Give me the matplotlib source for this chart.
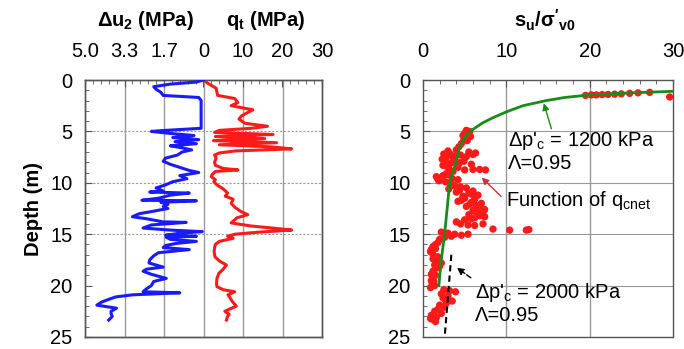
import matplotlib
matplotlib.use("Agg")
import matplotlib.pyplot as plt
from matplotlib.ticker import MultipleLocator

plt.rcParams['font.family'] = ['Liberation Sans', 'DejaVu Sans']
plt.rcParams['mathtext.fontset'] = 'custom'
plt.rcParams['mathtext.rm'] = 'Liberation Sans'
plt.rcParams['mathtext.it'] = 'Liberation Sans:italic'
plt.rcParams['mathtext.bf'] = 'Liberation Sans:bold'

# ---- data: pore pressure (depth m, MPa)
du2_depth = [0.0, 0.2, 0.4, 0.65, 0.9, 1.2, 1.5, 1.7, 2.0, 3.0, 4.0, 4.7, 4.9, 5.0, 5.2, 5.4, 5.6, 5.8,
             6.0, 6.2, 6.4, 6.6, 6.8, 7.0, 7.3, 7.6, 7.9, 8.2, 8.5, 8.8, 9.0, 9.3, 9.6, 9.9, 10.2, 10.5,
             10.8, 10.9, 11.0, 11.2, 11.5, 11.7, 11.75, 11.9, 12.1, 12.3, 12.5, 12.8, 13.0, 13.3, 13.5,
             13.8, 13.85, 14.1, 14.4, 14.6, 14.75, 14.9, 15.1, 15.2, 15.3, 15.5, 15.7, 15.9, 16.1, 16.3,
             16.5, 16.8, 17.1, 17.5, 17.8, 18.2, 18.4, 18.6, 18.9, 19.3, 19.6, 20.0, 20.3, 20.6, 20.7,
             20.9, 21.1, 21.3, 21.6, 21.9, 22.2, 22.5, 22.7, 23.0, 23.35]
du2_val = [0.0, 0.3, 1.4, 2.1, 2.0, 1.8, 1.7, 0.2, 0.1, 0.1, 0.1, 0.1, 1.6, 2.2, 1.4, 0.4, 1.3, 0.2,
           1.2, 0.3, 1.4, 0.9, 0.5, 0.9, 1.1, 1.6, 1.7, 1.4, 1.0, 0.6, 0.2, 1.0, 0.7, 1.3, 1.6, 2.0,
           1.7, 2.27, 0.6, 1.4, 1.9, 2.6, 0.3, 1.8, 1.5, 1.7, 1.5, 2.2, 2.7, 3.0, 2.4,
           1.7, 0.73, 2.2, 2.55, 1.4, 0.05, 1.0, 1.6, 0.3, 1.57, 1.4, 0.3, 1.15, 1.6, 1.7,
           0.6, 1.9, 2.1, 2.27, 2.3, 1.7, 2.4, 2.55, 2.2, 1.57, 2.1, 2.2, 2.4, 2.55, 1.0,
           3.0, 3.7, 3.95, 4.3, 4.5, 3.67, 3.9, 3.9, 3.85, 4.0]

# ---- data: cone resistance (depth m, MPa)
qt_depth = [0.0, 0.3, 0.8, 1.2, 1.5, 1.8, 2.2, 2.5, 2.9, 3.2, 3.5, 3.8, 4.2, 4.5, 4.7, 4.9, 5.1, 5.3,
            5.5, 5.7, 5.9, 6.1, 6.3, 6.5, 6.7, 6.9, 7.1, 7.3, 7.6, 8.0, 8.3, 8.6, 8.75, 8.9, 9.2, 9.4,
            9.7, 9.9, 10.2, 10.6, 11.0, 11.3, 11.6, 12.0, 12.4, 12.8, 13.1, 13.4, 13.9, 14.2, 14.5,
            14.6, 14.8, 15.0, 15.2, 15.4, 15.7, 16.0, 16.3, 16.7, 17.2, 17.6, 18.0, 18.4, 18.8, 19.3,
            19.8, 20.1, 20.4, 20.6, 20.9, 21.1, 21.5, 22.0, 22.3, 22.5, 22.8, 23.0, 23.35]
qt_val = [0.2, 1.0, 3.2, 3.4, 3.6, 7.9, 8.7, 7.0, 12.5, 11.0, 9.6, 9.0, 10.4, 16.2, 12.0, 4.0, 2.8, 17.6,
          3.0, 15.5, 2.5, 18.5, 4.0, 17.0, 22.3, 8.0, 4.0, 2.8, 3.2, 2.8, 3.0, 5.0, 8.7, 3.0, 2.2, 1.96,
          3.0, 2.6, 3.4, 5.0, 6.1, 5.5, 7.5, 7.0, 8.0, 9.5, 11.2, 8.5, 7.0, 12.0, 20.0,
          22.3, 14.0, 8.0, 6.1, 7.5, 4.0, 3.0, 2.8, 2.7, 2.9, 4.0, 5.8, 5.0, 3.9, 3.4,
          3.3, 3.4, 5.0, 7.9, 6.2, 6.6, 7.2, 8.3, 6.5, 5.4, 6.5, 6.1, 5.8]

# ---- data: su/sigma'v0 from qcnet (value, depth)
su_val = [19.5, 20.2, 20.8, 21.5, 22.2, 23.0, 23.8, 24.8, 25.8, 27.2, 29.6,
          5.2, 5.6, 5.0, 5.4, 5.7, 5.1, 4.9, 5.3, 4.6, 4.3, 4.0, 4.8, 5.5,
          3.0, 5.5, 6.3, 2.5, 4.5, 3.5, 2.8, 5.0, 2.3, 3.8, 4.9, 2.6, 3.3, 5.8, 2.9, 4.2,
          3.2, 4.0, 5.2, 6.0, 2.7, 3.6, 4.4, 2.4, 3.1,
          5.0, 6.0, 6.8, 7.5,
          3.6, 2.8, 1.6, 2.2, 3.5, 4.2, 1.9, 2.7, 3.2, 2.4, 1.8, 3.0,
          3.6, 4.5, 5.2, 3.1, 6.0, 4.0, 5.5, 6.6, 4.8, 3.8, 4.4, 5.8,
          5.0, 6.2, 4.2, 5.8, 7.0, 6.4, 5.2, 6.8, 7.4, 6.0, 7.0, 6.5, 5.5, 4.6, 5.6, 6.6, 7.2,
          6.8, 7.4, 5.8, 4.0, 6.2, 5.0,
          4.5, 5.4, 6.2, 7.2, 8.4, 10.4, 12.4, 12.7,
          2.2, 3.0, 3.8, 4.6, 5.4, 2.6, 3.4,
          2.0, 1.8, 1.5,
          1.2, 1.0, 1.1, 1.3, 1.8, 1.2, 1.6, 2.2, 1.4, 2.0, 0.9, 1.5,
          1.6, 1.2, 1.0, 1.2, 1.0, 1.1, 1.4, 0.9, 1.5, 1.3,
          2.5, 3.9, 2.2, 3.0, 2.6, 3.5, 2.8, 2.0, 3.2, 2.4,
          2.6, 1.8, 1.4, 2.2, 1.0, 1.6, 1.2, 1.5, 2.0, 0.9]
su_depth = [1.5, 1.45, 1.45, 1.42, 1.4, 1.38, 1.35, 1.3, 1.25, 1.2, 1.65,
            4.9, 5.0, 5.2, 5.3, 5.5, 5.6, 5.8, 5.9, 6.2, 6.5, 6.8, 5.4, 5.1,
            6.9, 7.0, 7.1, 7.2, 7.3, 7.4, 7.5, 7.6, 7.7, 7.8, 7.9, 8.0, 8.1, 8.2, 8.4, 8.5,
            7.15, 7.35, 7.45, 7.25, 7.65, 7.95, 8.05, 8.3, 8.6,
            8.75, 8.7, 8.7, 8.75,
            8.9, 9.1, 9.4, 9.5, 9.6, 9.7, 9.8, 9.9, 10.0, 9.3, 9.65, 9.2,
            10.2, 10.4, 10.5, 10.6, 10.8, 10.9, 11.0, 11.2, 11.3, 10.3, 10.7, 11.1,
            11.5, 11.6, 11.8, 11.9, 12.0, 12.2, 12.3, 12.4, 12.6, 12.7, 12.9, 13.0, 13.1,
            11.7, 12.1, 12.5, 12.8,
            13.2, 13.3, 13.5, 13.8, 13.4, 13.6,
            14.0, 14.1, 14.15, 14.0, 14.5, 14.6, 14.6, 14.55,
            14.8, 14.9, 15.0, 15.1, 15.0, 15.3, 15.2,
            15.5, 15.8, 16.0,
            16.2, 16.5, 16.8, 17.1, 17.2, 17.4, 17.6, 17.8, 18.0, 18.1, 16.7, 16.4,
            18.3, 18.6, 18.9, 19.2, 19.5, 19.8, 20.0, 20.2, 19.0, 19.6,
            20.4, 20.6, 20.8, 21.0, 21.3, 21.5, 21.7, 21.9, 20.5, 21.2,
            22.1, 22.3, 22.5, 22.7, 22.9, 23.1, 23.3, 23.5, 22.4, 23.2]

# ---- data: model curves (value, depth)
fit1200_val = [30, 25, 20, 17, 14.8, 12, 10, 8.3, 7.1, 6.0, 5.2, 4.4, 3.8, 3.2, 2.9, 2.6, 2.2, 1.9]
fit1200_depth = [1.1, 1.25, 1.45, 1.7, 2.0, 2.5, 3.1, 3.7, 4.2, 4.8, 5.3, 6.5, 8.4, 10.0, 12.5, 14.9, 17.5, 20.0]
fit2000_val = [3.4, 3.1, 2.85, 2.6]
fit2000_depth = [17.0, 20.0, 22.5, 25.0]

du2_ticks = [5.0, 3.333, 1.667, 0.0]
du2_ticklabels = ['5.0', '3.3', '1.7', '0']
qt_ticks = [10, 20, 30]
depth_ticks = [0, 5, 10, 15, 20, 25]

FS = 14.5
SPC = '#555555'
XPAD = 14
fig = plt.figure(figsize=(6.84, 3.49), dpi=100)
W, H = 684, 349

def frac(x0, x1, y0, y1):
    return [x0 / W, 1 - y1 / H, (x1 - x0) / W, (y1 - y0) / H]

# ----------------- left panel -----------------
axq = fig.add_axes(frac(85, 322, 80, 337))
axq.set_xlim(-30, 30)
axq.set_ylim(25, 0)
axu = axq.twiny()
axu.set_xlim(5, -5)
axq2 = axq.twiny()
axq2.set_xlim(-30, 30)

for a in (axq, axu):
    for s in a.spines.values():
        s.set_color(SPC)
        s.set_linewidth(1.0)
for s in axq2.spines.values():
    s.set_visible(False)

for xv in [-20, -10, 0, 10, 20]:
    axq.axvline(xv, color='#999999', lw=1.0, zorder=0)
for yv in [5, 10, 15]:
    axq.axhline(yv, color='#999999', lw=0.8, ls=(0, (2, 1.5)), zorder=0)

axq.plot(qt_val, qt_depth, color='#ff1a1a', lw=2.2, zorder=3)
axu.plot(du2_val, du2_depth, color='#1a1aff', lw=2.2, zorder=3)

axq.set_xticks([])
axq.tick_params(axis='x', which='both', bottom=False, top=False, labelbottom=False)

axu.xaxis.set_ticks_position('top')
axu.set_xticks(du2_ticks)
axu.set_xticklabels(du2_ticklabels)
axu.set_xticks([4.667, 4.333, 4.0, 3.667, 3.0, 2.667, 2.333, 2.0, 1.333, 1.0, 0.667, 0.333], minor=True)
axu.tick_params(axis='x', which='major', direction='in', length=5, labelsize=FS, pad=XPAD, color=SPC)
axu.tick_params(axis='x', which='minor', direction='in', length=3, color=SPC)

axq2.xaxis.set_ticks_position('top')
axq2.set_xticks(qt_ticks)
axq2.set_xticks([2, 4, 6, 8, 12, 14, 16, 18, 22, 24, 26, 28], minor=True)
axq2.tick_params(axis='x', which='major', direction='in', length=5, labelsize=FS, pad=XPAD, color=SPC)
axq2.tick_params(axis='x', which='minor', direction='in', length=3, color=SPC)

axq.set_yticks(depth_ticks)
axq.yaxis.set_minor_locator(MultipleLocator(1))
axq.tick_params(axis='y', which='major', direction='in', length=5, labelsize=FS, pad=9, color=SPC)
axq.tick_params(axis='y', which='minor', direction='in', length=3, color=SPC)
axq.set_ylabel('Depth (m)', fontsize=FS, fontweight='bold', labelpad=5)

fig.text(145 / W, 1 - 20 / H, r'$\mathbf{\Delta u_2}$ (MPa)', fontsize=FS, fontweight='bold',
         ha='center', va='center')
fig.text(266 / W, 1 - 20 / H, r'$\mathbf{q_t}$ (MPa)', fontsize=FS, fontweight='bold',
         ha='center', va='center')

# ----------------- right panel -----------------
axr = fig.add_axes(frac(423, 673, 80, 337))
axr.set_xlim(0, 30)
axr.set_ylim(25, 0)
for s in axr.spines.values():
    s.set_color(SPC)
    s.set_linewidth(1.0)
for xv in [10, 20]:
    axr.axvline(xv, color='#999999', lw=1.0, zorder=0)
for yv in [5, 10, 15, 20]:
    axr.axhline(yv, color='#999999', lw=0.8, zorder=0)

axr.scatter(su_val, su_depth, s=28, color='#ff1a1a', edgecolors='none', zorder=3)
axr.plot(fit1200_val, fit1200_depth, color='#1a8a1a', lw=2.0, zorder=4)
axr.plot(fit2000_val, fit2000_depth, color='black', lw=1.5, ls=(0, (3, 2)), zorder=4)

axr.xaxis.set_ticks_position('top')
axr.set_xticks([0, 10, 20, 30])
axr.xaxis.set_minor_locator(MultipleLocator(2))
axr.set_yticks(depth_ticks)
axr.yaxis.set_minor_locator(MultipleLocator(1))
axr.tick_params(axis='both', which='major', direction='in', length=5, labelsize=FS, color=SPC)
axr.tick_params(axis='x', which='major', pad=XPAD)
axr.tick_params(axis='y', which='major', pad=9)
axr.tick_params(axis='both', which='minor', direction='in', length=3, color=SPC)

fig.text(545 / W, 1 - 20 / H, r"$\mathbf{s_u/\sigma'_{v0}}$", fontsize=FS, fontweight='bold',
         ha='center', va='center')

axr.text(10.2, 5.9, r"Δp'$_\mathrm{c}$ = 1200 kPa", fontsize=FS, va='center', ha='left')
axr.text(10.2, 8.15, "Λ=0.95", fontsize=FS, va='center', ha='left')
axr.annotate('', xy=(14.4, 2.0), xytext=(15.5, 5.0),
             arrowprops=dict(arrowstyle='-|>', color='#1a8a1a', lw=1.0, mutation_scale=10))

axr.text(10.0, 11.75, r"Function of q$_\mathrm{cnet}$", fontsize=FS, va='center', ha='left')
axr.annotate('', xy=(6.8, 9.3), xytext=(9.6, 11.5),
             arrowprops=dict(arrowstyle='-|>', color='#cc3333', lw=1.0, mutation_scale=10))

axr.text(6.2, 20.7, r"Δp'$_\mathrm{c}$ = 2000 kPa", fontsize=FS, va='center', ha='left')
axr.text(6.2, 22.95, "Λ=0.95", fontsize=FS, va='center', ha='left')
axr.annotate('', xy=(3.8, 18.1), xytext=(6.0, 19.4),
             arrowprops=dict(arrowstyle='-|>', color='black', lw=1.0, ls='--', mutation_scale=10))

fig.savefig('out.png', dpi=100)
